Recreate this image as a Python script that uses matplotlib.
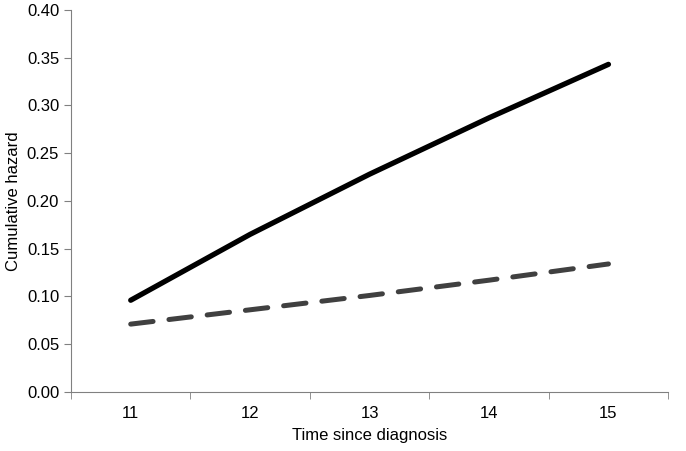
import matplotlib
matplotlib.use('Agg')
import matplotlib.pyplot as plt
from matplotlib.ticker import FixedLocator, MultipleLocator

plt.rcParams['font.family'] = ['Liberation Sans', 'DejaVu Sans']

years = [11, 12, 13, 14, 15]
solid_hazard = [0.096, 0.165, 0.228, 0.287, 0.343]
dashed_hazard = [0.071, 0.086, 0.101, 0.117, 0.134]

fig = plt.figure(figsize=(6.86, 4.51), dpi=100)
ax = fig.add_axes([0.1035, 0.131, 0.8705, 0.847])

pos = list(range(len(years)))
ax.plot(pos, solid_hazard, color='black', lw=3.8, solid_capstyle='round')
ax.plot(pos, dashed_hazard, color='#404040', lw=3.6, dashes=(4.5, 3.2),
        dash_capstyle='round')

ax.set_xlim(-0.5, len(years) - 0.5)
ax.set_ylim(0, 0.40)
ax.yaxis.set_major_locator(MultipleLocator(0.05))
ax.yaxis.set_major_formatter(plt.FuncFormatter(lambda v, _: f'{v:.2f}'))
ax.set_xticks(pos)
ax.set_xticklabels([str(y) for y in years])
ax.xaxis.set_minor_locator(FixedLocator([p - 0.5 for p in pos] + [len(years) - 0.5]))
ax.tick_params(axis='x', which='major', length=0, pad=10, labelsize=12)
ax.tick_params(axis='x', which='minor', length=5, direction='out', color='#808080')
ax.tick_params(axis='y', length=5, direction='out', color='#808080', labelsize=12)

for s in ('top', 'right'):
    ax.spines[s].set_visible(False)
for s in ('left', 'bottom'):
    ax.spines[s].set_color('#808080')

ax.set_xlabel('Time since diagnosis', fontsize=12, labelpad=5)
ax.set_ylabel('Cumulative hazard', fontsize=12, labelpad=4)

fig.savefig('out.png', dpi=100)
